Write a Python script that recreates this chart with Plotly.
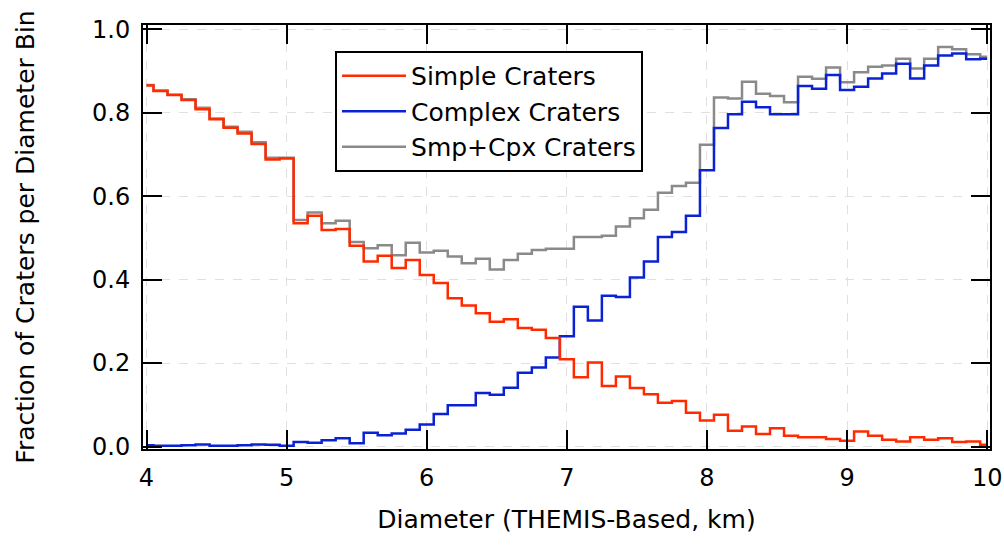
import plotly.graph_objects as go

diameter_km = [4.0, 4.1, 4.2, 4.3, 4.4, 4.5, 4.6, 4.7, 4.8, 4.9,
               5.0, 5.1, 5.2, 5.3, 5.4, 5.5, 5.6, 5.7, 5.8, 5.9,
               6.0, 6.1, 6.2, 6.3, 6.4, 6.5, 6.6, 6.7, 6.8, 6.9,
               7.0, 7.1, 7.2, 7.3, 7.4, 7.5, 7.6, 7.7, 7.8, 7.9,
               8.0, 8.1, 8.2, 8.3, 8.4, 8.5, 8.6, 8.7, 8.8, 8.9,
               9.0, 9.1, 9.2, 9.3, 9.4, 9.5, 9.6, 9.7, 9.8, 9.9,
               10.0]

simple_frac = [0.865, 0.852, 0.842, 0.830, 0.808, 0.784, 0.764, 0.750, 0.725, 0.688,
               0.690, 0.535, 0.553, 0.519, 0.521, 0.481, 0.443, 0.457, 0.428, 0.447,
               0.411, 0.392, 0.355, 0.338, 0.319, 0.299, 0.305, 0.284, 0.280, 0.260,
               0.209, 0.166, 0.201, 0.145, 0.168, 0.140, 0.125, 0.105, 0.109, 0.081,
               0.062, 0.076, 0.038, 0.048, 0.030, 0.044, 0.026, 0.022, 0.022, 0.018,
               0.014, 0.036, 0.026, 0.016, 0.012, 0.022, 0.016, 0.020, 0.011, 0.012,
               0.004]

complex_frac = [0.003, 0.002, 0.002, 0.003, 0.005, 0.002, 0.002, 0.003, 0.005, 0.004,
                0.002, 0.011, 0.009, 0.015, 0.020, 0.008, 0.033, 0.027, 0.031, 0.040,
                0.053, 0.078, 0.099, 0.099, 0.128, 0.124, 0.141, 0.177, 0.189, 0.213,
                0.264, 0.335, 0.302, 0.361, 0.358, 0.405, 0.443, 0.502, 0.514, 0.553,
                0.662, 0.763, 0.796, 0.826, 0.813, 0.796, 0.796, 0.864, 0.857, 0.890,
                0.854, 0.862, 0.882, 0.894, 0.917, 0.882, 0.913, 0.937, 0.942, 0.928,
                0.929]

combined_frac = [0.866, 0.853, 0.843, 0.832, 0.812, 0.786, 0.766, 0.754, 0.729, 0.692,
                 0.692, 0.543, 0.561, 0.535, 0.541, 0.490, 0.475, 0.482, 0.458, 0.488,
                 0.465, 0.469, 0.455, 0.439, 0.450, 0.424, 0.447, 0.462, 0.471, 0.474,
                 0.474, 0.502, 0.502, 0.505, 0.527, 0.547, 0.567, 0.608, 0.624, 0.632,
                 0.723, 0.836, 0.834, 0.874, 0.845, 0.840, 0.825, 0.886, 0.881, 0.908,
                 0.873, 0.897, 0.910, 0.913, 0.929, 0.906, 0.929, 0.957, 0.952, 0.940,
                 0.934]

x_ticks = [4, 5, 6, 7, 8, 9, 10]
y_ticks = [0.0, 0.2, 0.4, 0.6, 0.8, 1.0]

FONT = "DejaVu Sans"
RED, BLUE, GRAY = "#ff2a00", "#0a22d4", "#8a8a8a"

fig = go.Figure()
fig.add_trace(go.Scatter(x=diameter_km, y=combined_frac, mode="lines",
                         line=dict(color=GRAY, width=2.5, shape="hvh"),
                         name="Smp+Cpx Craters", showlegend=False))
fig.add_trace(go.Scatter(x=diameter_km, y=complex_frac, mode="lines",
                         line=dict(color=BLUE, width=2.5, shape="hvh"),
                         name="Complex Craters", showlegend=False))
fig.add_trace(go.Scatter(x=diameter_km, y=simple_frac, mode="lines",
                         line=dict(color=RED, width=2.5, shape="hvh"),
                         name="Simple Craters", showlegend=False))
for nm, col in [("Simple Craters", RED), ("Complex Craters", BLUE),
                ("Smp+Cpx Craters", GRAY)]:
    fig.add_trace(go.Scatter(x=[None], y=[None], mode="lines",
                             line=dict(color=col, width=2.5), name=nm))

axis_common = dict(
    showline=True, linecolor="black", linewidth=2, mirror="allticks",
    ticks="inside", ticklen=19, tickwidth=2, tickcolor="black",
    showgrid=True, gridcolor="#e0e0e0", griddash="dash", gridwidth=1,
    zeroline=False, ticklabelstandoff=6, automargin=False,
    tickfont=dict(family=FONT, size=24, color="black"),
)

fig.update_xaxes(range=[3.975, 10.02], tickvals=x_ticks,
                 ticktext=[str(v) for v in x_ticks],
                 title=dict(text="Diameter (THEMIS-Based, km)", standoff=20,
                            font=dict(family=FONT, size=25, color="black")),
                 **axis_common)
fig.update_yaxes(range=[-0.006, 1.01], tickvals=y_ticks,
                 ticktext=[f"{v:.1f}" for v in y_ticks],
                 title=dict(text="Fraction of Craters per Diameter Bin", standoff=50,
                            font=dict(family=FONT, size=25, color="black")),
                 **axis_common)

fig.update_layout(
    width=1004, height=548,
    margin=dict(l=143, r=14, t=25, b=99, autoexpand=False),
    plot_bgcolor="white", paper_bgcolor="white",
    font=dict(family=FONT, size=24, color="black"),
    legend=dict(x=0.2267, y=0.9387, xanchor="left", yanchor="top",
                bgcolor="white", bordercolor="black", borderwidth=2,
                font=dict(family=FONT, size=25, color="black"),
                itemwidth=64, tracegroupgap=0),
)

fig.write_html(
    "out.html",
    config={"displayModeBar": False},
    post_script="document.body.style.margin='0';document.body.style.overflow='hidden';",
)
